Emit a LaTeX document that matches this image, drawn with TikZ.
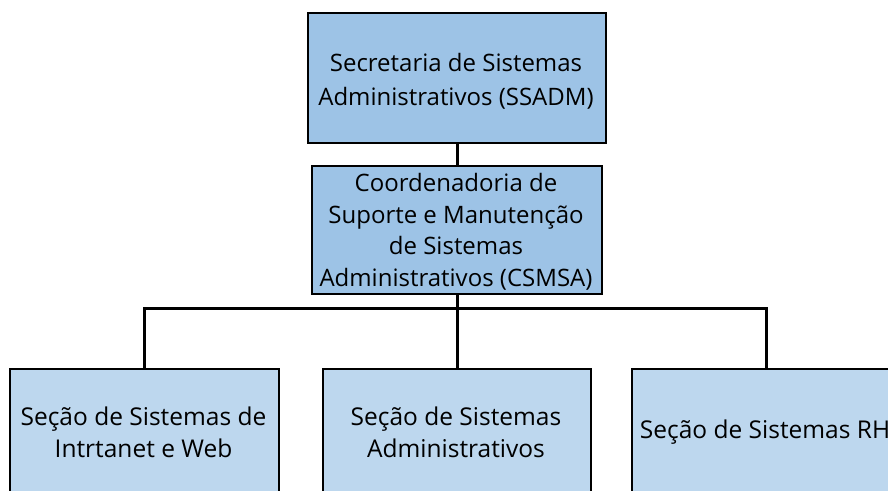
\documentclass[tikz,border=0pt]{standalone}
\usepackage{fontspec}
\setmainfont{Open Sans}
\tikzset{
  x=1pt, y=-1pt,
  topbox/.style={draw=black, line width=2pt, fill=topblue, rectangle, anchor=north west, inner sep=0pt},
  subbox/.style={draw=black, line width=2pt, fill=subblue, rectangle, anchor=north west, inner sep=0pt},
  lbl/.style={align=center, inner sep=0pt},
  conn/.style={draw=black, line width=3pt},
}
\definecolor{topblue}{HTML}{9DC3E6}
\definecolor{subblue}{HTML}{BDD7EE}
\begin{document}
\begin{tikzpicture}
\useasboundingbox (0,0) rectangle (888,490);
\clip (0,0) rectangle (888,490);
\fill[white] (0,0) rectangle (888,490);
% connectors (drawn first, boxes on top)
\coordinate (bus) at (456,308);
\node[topbox, minimum width=298pt, minimum height=130pt] (ssadm) at (307,12) {};
\node[topbox, minimum width=290pt, minimum height=128pt] (csmsa) at (311,165) {};
\node[subbox, minimum width=269pt, minimum height=140pt] (s1) at (9,368) {};
\node[subbox, minimum width=268pt, minimum height=140pt] (s2) at (322,368) {};
\node[subbox, minimum width=268pt, minimum height=140pt] (s3) at (631,368) {};
\draw[conn] (ssadm.south) -- (csmsa.north);
\draw[conn] (csmsa.south) -- (s2.north);
\draw[conn, line cap=rect] (s1.north) |- (bus) -| (s3.north);
% labels
\node[lbl, font=\fontsize{24}{34}\selectfont] (ssadmt) at (456,81) {Secretaria de Sistemas\\Administrativos (SSADM)};
\node[lbl, font=\fontsize{24}{31.5}\selectfont] (csmsat) at (456,232) {Coordenadoria de\\Suporte e Manutenção\\de Sistemas\\Administrativos (CSMSA)};
\node[lbl, font=\fontsize{24.5}{32}\selectfont] (s1t) at (143.5,432) {Seção de Sistemas de\\Intrtanet e Web};
\node[lbl, font=\fontsize{24.5}{32}\selectfont] (s2t) at (456,432) {Seção de Sistemas\\Administrativos};
\node[lbl, font=\fontsize{24.5}{32}\selectfont] (s3t) at (765,432) {Seção de Sistemas RH};
\end{tikzpicture}
\end{document}
